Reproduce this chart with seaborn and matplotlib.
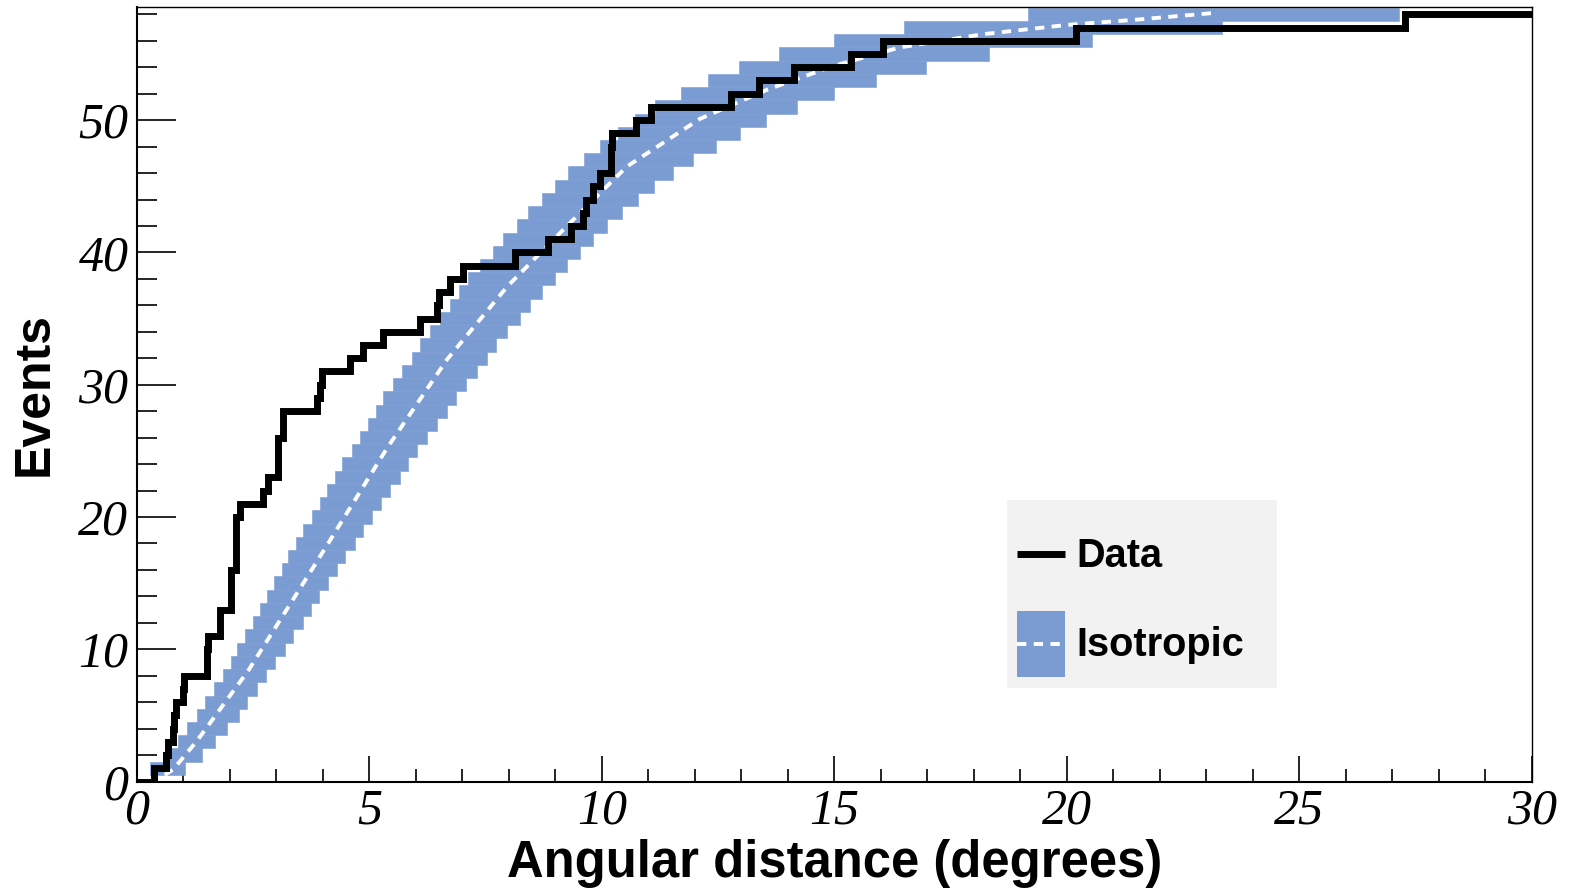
import numpy as np
import matplotlib
matplotlib.use("Agg")
import matplotlib.pyplot as plt
import seaborn as sns
from matplotlib.lines import Line2D
from matplotlib.patches import Patch, Rectangle
from matplotlib.legend_handler import HandlerTuple, HandlerLine2D
from matplotlib.ticker import MultipleLocator

# ---------------- data ----------------
# sorted angular distances (degrees) of the 58 observed events
data_angles = [0.36, 0.62, 0.67, 0.78, 0.80, 0.84, 0.99, 1.02, 1.50, 1.50,
               1.53, 1.79, 1.79, 2.02, 2.02, 2.02, 2.14, 2.14, 2.14, 2.14,
               2.22, 2.72, 2.83, 3.04, 3.04, 3.04, 3.15, 3.15, 3.88, 3.95,
               3.99, 4.59, 4.87, 5.30, 6.10, 6.46, 6.50, 6.74, 7.02, 8.14,
               8.85, 9.33, 9.60, 9.65, 9.82, 9.97, 10.19, 10.19, 10.22, 10.73,
               11.05, 12.77, 13.37, 14.13, 15.36, 16.05, 20.20, 27.27]

# isotropic expectation: band per cumulative event level
iso_level = list(range(1, 59))
iso_lo = [0.29, 0.67, 0.89, 1.07, 1.29, 1.47, 1.65, 1.85, 2.02, 2.16,
          2.33, 2.49, 2.65, 2.80, 2.96, 3.12, 3.26, 3.43, 3.58, 3.76,
          3.94, 4.09, 4.26, 4.41, 4.62, 4.80, 4.98, 5.15, 5.30, 5.52,
          5.70, 5.91, 6.09, 6.31, 6.52, 6.74, 6.92, 7.13, 7.38, 7.67,
          7.88, 8.17, 8.42, 8.71, 9.00, 9.28, 9.62, 9.96, 10.34, 10.72,
          11.15, 11.70, 12.29, 12.94, 13.80, 15.00, 16.49, 19.17]
iso_hi = [1.04, 1.40, 1.68, 1.95, 2.19, 2.37, 2.58, 2.78, 2.97, 3.19,
          3.35, 3.57, 3.74, 3.91, 4.12, 4.30, 4.48, 4.69, 4.87, 5.05,
          5.25, 5.45, 5.65, 5.84, 6.02, 6.24, 6.45, 6.67, 6.87, 7.08,
          7.31, 7.53, 7.73, 7.95, 8.23, 8.46, 8.72, 9.00, 9.26, 9.53,
          9.82, 10.12, 10.43, 10.77, 11.12, 11.53, 11.97, 12.45, 12.96, 13.53,
          14.19, 15.00, 15.89, 16.97, 18.33, 20.54, 23.33, 27.13]

# isotropic mean curve (white dashed)
iso_mean_x = [0.60, 0.78, 1.30, 2.40, 3.85, 5.38, 6.67, 7.96, 9.25, 10.54,
              12.11, 13.55, 14.98, 16.41, 18.20, 20.00, 21.50, 23.15]
iso_mean_y = [0.5, 0.9, 3.1, 8.4, 16.5, 25.2, 31.9, 37.4, 42.0, 46.5,
              50.1, 52.3, 54.1, 55.5, 56.5, 57.2, 57.6, 58.1]

x_range = (0, 30)
y_range = (0, 58.58)
x_major = [0, 5, 10, 15, 20, 25, 30]
y_major = [0, 10, 20, 30, 40, 50]

# ---------------- style ----------------
sns.set_theme(style="white")
plt.rcParams["font.family"] = ["Liberation Sans", "DejaVu Sans"]
plt.rcParams["text.color"] = "black"

BLUE = "#7b9bd3"
DASH = (0, (2.4, 1.9))


class CenteredLine(HandlerLine2D):
    """Line handle drawn at the vertical centre of the handle box."""
    def create_artists(self, legend, orig_handle, xdescent, ydescent,
                       width, height, fontsize, trans):
        arts = super().create_artists(legend, orig_handle, xdescent, ydescent,
                                      width, height, fontsize, trans)
        for a in arts:
            xd = a.get_xdata()
            a.set_ydata(np.full(len(xd), height / 2 - ydescent))
        return arts


fig = plt.figure(figsize=(15.74, 8.89), dpi=100)
ax = fig.add_axes([0.0869, 0.1209, 0.8864, 0.8716])

# band
widths = np.array(iso_hi) - np.array(iso_lo)
ax.barh(iso_level, widths, left=iso_lo, height=1.0, color=BLUE,
        edgecolor=BLUE, linewidth=0.4, zorder=1)

# mean curve
sns.lineplot(x=iso_mean_x, y=iso_mean_y, ax=ax, color="white", lw=2.8,
             linestyle=DASH, estimator=None, sort=False, zorder=2)

# data cumulative step
n = len(data_angles)
step_x = [x_range[0]] + data_angles + [x_range[1]]
step_y = list(range(0, n + 1)) + [n]
sns.lineplot(x=step_x, y=step_y, ax=ax, color="black", lw=5.0,
             drawstyle="steps-post", estimator=None, sort=False, zorder=3,
             solid_joinstyle="miter", solid_capstyle="butt")

ax.set_xlim(*x_range)
ax.set_ylim(*y_range)

ax.set_xticks(x_major)
ax.set_yticks(y_major)
ax.xaxis.set_minor_locator(MultipleLocator(1))
ax.yaxis.set_minor_locator(MultipleLocator(2))
ax.set_xticklabels([str(v) for v in x_major])
ax.set_yticklabels([str(v) for v in y_major])

ax.tick_params(axis="x", which="major", direction="in", length=18.7, width=1.2,
               color="black", bottom=True, top=False, pad=5, labelsize=36,
               labelcolor="black")
ax.tick_params(axis="x", which="minor", direction="in", length=9.4, width=1.2,
               color="black", bottom=True, top=False)
ax.tick_params(axis="y", which="major", direction="in", length=28, width=1.2,
               color="black", left=True, right=False, pad=6, labelsize=36,
               labelcolor="black")
ax.tick_params(axis="y", which="minor", direction="in", length=14.5, width=1.2,
               color="black", left=True, right=False)
for lbl in ax.get_xticklabels() + ax.get_yticklabels():
    lbl.set_fontfamily(["Liberation Serif", "DejaVu Serif"])
    lbl.set_fontstyle("italic")

for side, sp in ax.spines.items():
    sp.set_visible(True)
    sp.set_color("black")
    sp.set_linewidth(1.5 if side in ("left", "bottom") else 1.0)

ax.set_xlabel("Angular distance (degrees)", fontsize=36.5, fontweight="bold",
              color="black")
ax.set_ylabel("Events", fontsize=36, fontweight="bold", color="black")
ax.xaxis.set_label_coords(0.5, -0.074)
ax.yaxis.set_label_coords(-0.057, 0.5)

# legend
ax.add_patch(Rectangle((0.6237, 0.1207), 0.1935, 0.2426, transform=ax.transAxes,
                       facecolor="#f2f2f2", edgecolor="none", zorder=4))
h_data = Line2D([], [], color="black", lw=5.0, solid_capstyle="butt")
h_iso = (Patch(facecolor=BLUE, edgecolor="none"),
         Line2D([], [], color="white", lw=2.8, linestyle=DASH))
leg = ax.legend([h_data, h_iso], ["Data", "Isotropic"],
                handler_map={tuple: HandlerTuple(ndivide=1, pad=0),
                             Line2D: CenteredLine()},
                loc="upper left", bbox_to_anchor=(0.6309, 0.336),
                frameon=False, borderpad=0, borderaxespad=0,
                handlelength=1.2, handleheight=2.2, handletextpad=0.3,
                labelspacing=0.58,
                prop={"family": "Liberation Sans", "weight": "bold", "size": 28.6})
for t in leg.get_texts():
    t.set_color("black")
leg.set_zorder(5)

fig.savefig("out.png", dpi=100)
